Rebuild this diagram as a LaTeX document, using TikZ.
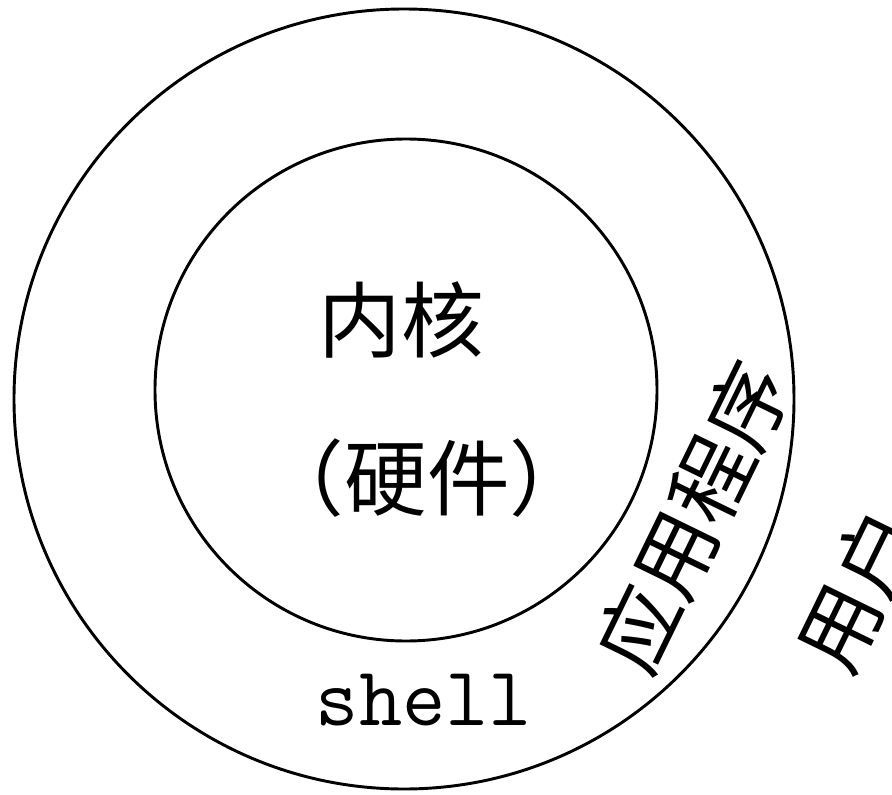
\documentclass[tikz,border=0pt]{standalone}
\usepackage{fontspec}
\newfontfamily\cjk{Noto Sans CJK SC}
\begin{document}
\begin{tikzpicture}[x=0.75pt,y=-0.75pt,
  ring/.style={circle, draw=black, line width=2.2pt, inner sep=0pt},
  cjklabel/.style={font=\cjk\fontsize{62}{62}\selectfont, inner sep=0pt, text=black},
  monolabel/.style={font=\ttfamily\fontsize{63}{63}\selectfont, inner sep=0pt, text=black}]
\useasboundingbox (0,0) rectangle (892,795);
\fill[white] (0,0) rectangle (892,795);
\node[ring, minimum size=585pt] (outer) at (404,399) {};
\node[ring, minimum size=376.5pt] (inner) at (406,390) {};
\node[cjklabel] (kernel) at (401,320) {内核};
\node[cjklabel] (hw) at (427,478) {（硬件）};
\node[monolabel, anchor=base] (shell) at (424,725) {shell};
\node[cjklabel, rotate=64] (app) at (693,517) {应用程序};
\node[cjklabel, rotate=64] (user) at (858,590) {用户};
\end{tikzpicture}
\end{document}
